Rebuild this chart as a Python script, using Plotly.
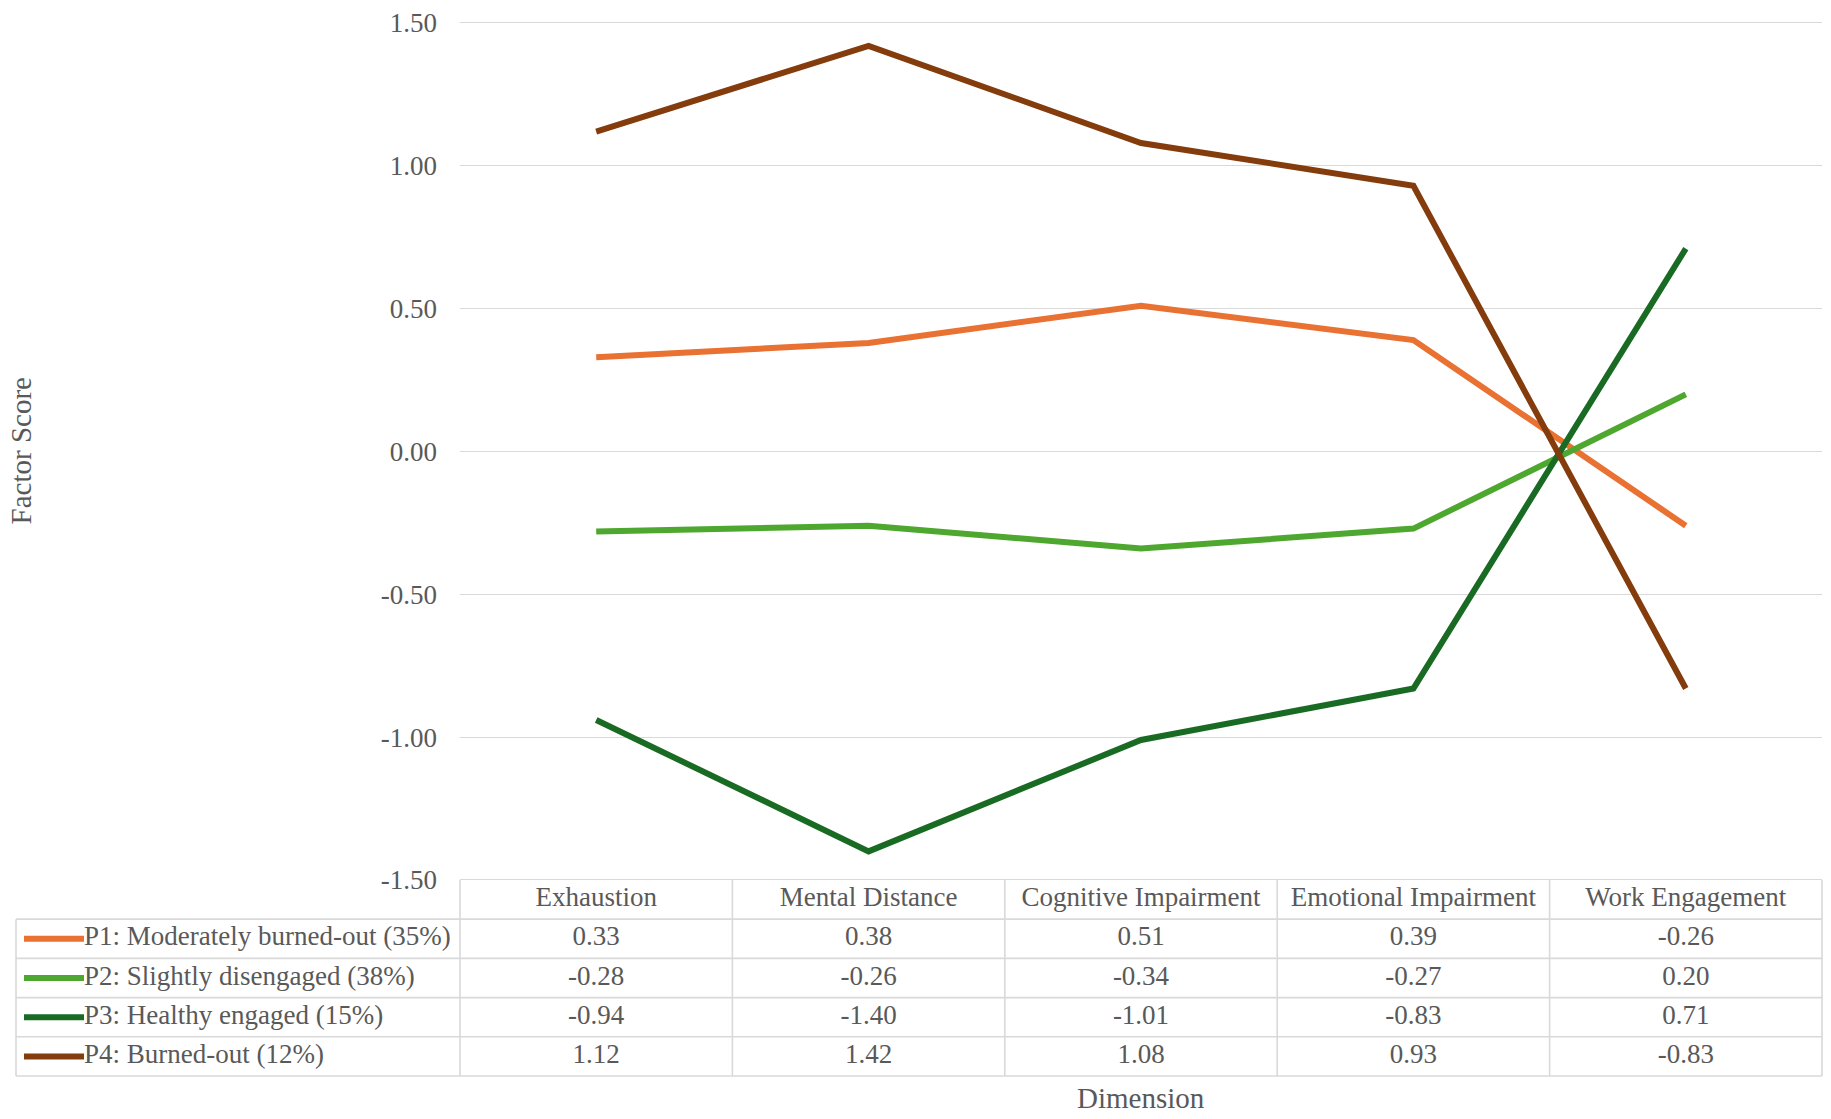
import plotly.graph_objects as go

# ---------------- data ----------------
dimensions = ["Exhaustion", "Mental Distance", "Cognitive Impairment",
              "Emotional Impairment", "Work Engagement"]
profiles = ["P1: Moderately burned-out (35%)", "P2: Slightly disengaged (38%)",
            "P3: Healthy engaged (15%)", "P4: Burned-out (12%)"]
p1_scores = [0.33, 0.38, 0.51, 0.39, -0.26]
p2_scores = [-0.28, -0.26, -0.34, -0.27, 0.20]
p3_scores = [-0.94, -1.40, -1.01, -0.83, 0.71]
p4_scores = [1.12, 1.42, 1.08, 0.93, -0.83]
y_ticks = [-1.5, -1.0, -0.5, 0.0, 0.5, 1.0, 1.5]
y_tick_labels = ["-1.50", "-1.00", "-0.50", "0.00", "0.50", "1.00", "1.50"]
x_title = "Dimension"
y_title = "Factor Score"

# ---------------- style / geometry ----------------
colors = ["#E97132", "#4EA72E", "#196B24", "#843C0C"]
series = [p1_scores, p2_scores, p3_scores, p4_scores]
FONT = "Liberation Serif"
TXT = "#595959"
GRID = "#D9D9D9"
FS = 27
LW = 6

W, H = 1831, 1119
table_left, plot_left, right_px = 16, 460, 1822
top_px, axis_bottom, table_bottom = 18, 879, 1076
pad = 2     # keeps table borders off the clipping edge
gpad = 3    # keeps end gridlines off the axis ends
ml = table_left - pad
mr = W - right_px - 1
mt = top_px - gpad
mb = H - table_bottom - pad
pw, ph = W - ml - mr, H - mt - mb
col_px = (right_px - plot_left) / len(dimensions)
n_rows = len(profiles) + 1
row_px = (table_bottom - axis_bottom) / n_rows
unit_px = (axis_bottom - top_px) / (y_ticks[-1] - y_ticks[0])

x_dom = [(plot_left - ml) / pw, (right_px - ml) / pw]
y_dom = [(H - mb - (axis_bottom + gpad)) / ph, 1]
split = (H - mb - axis_bottom) / ph
y_range = [y_ticks[0] - gpad / unit_px, y_ticks[-1] + gpad / unit_px]
x2_left = -0.5 - (plot_left - ml) / col_px
x2_right = 4.5 + (W - mr - right_px) / col_px
y2_bottom = n_rows - 0.5 + pad / row_px
xl = -0.5 - (plot_left - table_left) / col_px  # table left edge in x2 units

fig = go.Figure()

# main profile lines
for name, vals, c in zip(profiles, series, colors):
    fig.add_trace(go.Scatter(x=dimensions, y=vals, mode="lines", name=name,
                             line=dict(color=c, width=LW), showlegend=False,
                             xaxis="x", yaxis="y"))

# table: header text
fig.add_trace(go.Scatter(x=list(range(len(dimensions))), y=[0] * len(dimensions),
                         mode="text", text=dimensions,
                         textfont=dict(family=FONT, size=FS, color=TXT),
                         showlegend=False, xaxis="x2", yaxis="y2",
                         cliponaxis=False, hoverinfo="skip"))

# table: values, legend keys, labels
for r, (name, vals, c) in enumerate(zip(profiles, series, colors), start=1):
    fig.add_trace(go.Scatter(x=list(range(len(vals))), y=[r] * len(vals),
                             mode="text", text=[f"{v:.2f}" for v in vals],
                             textfont=dict(family=FONT, size=FS, color=TXT),
                             showlegend=False, xaxis="x2", yaxis="y2",
                             cliponaxis=False, hoverinfo="skip"))
    k0 = xl + 8 / col_px
    k1 = xl + 68 / col_px
    fig.add_trace(go.Scatter(x=[k0, k1], y=[r, r], mode="lines",
                             line=dict(color=c, width=LW), showlegend=False,
                             xaxis="x2", yaxis="y2", hoverinfo="skip"))
    fig.add_trace(go.Scatter(x=[k1], y=[r], mode="text", text=[name],
                             textposition="middle right",
                             textfont=dict(family=FONT, size=FS, color=TXT),
                             showlegend=False, xaxis="x2", yaxis="y2",
                             cliponaxis=False, hoverinfo="skip"))

# table grid lines
shapes = []
line_style = dict(color=GRID, width=1.6)
for yy in [r + 0.5 for r in range(n_rows)]:
    shapes.append(dict(type="line", xref="x2", yref="y2", x0=xl, x1=4.5,
                       y0=yy, y1=yy, line=line_style, layer="below"))
shapes.append(dict(type="line", xref="x2", yref="y2", x0=xl, x1=xl,
                   y0=0.5, y1=n_rows - 0.5, line=line_style, layer="below"))
for xx in [i - 0.5 for i in range(len(dimensions) + 1)]:
    shapes.append(dict(type="line", xref="x2", yref="y2", x0=xx, x1=xx,
                       y0=-0.5, y1=n_rows - 0.5, line=line_style, layer="below"))

fig.update_layout(
    width=W, height=H,
    margin=dict(l=ml, r=mr, t=mt, b=mb, pad=0),
    paper_bgcolor="white", plot_bgcolor="rgba(0,0,0,0)",
    font=dict(family=FONT, color=TXT),
    showlegend=False,
    shapes=shapes,
    xaxis=dict(domain=x_dom, type="category", range=[-0.5, 4.5],
               showgrid=False, showticklabels=False, showline=False,
               zeroline=False, anchor="y"),
    yaxis=dict(domain=y_dom, range=y_range, tickvals=y_ticks,
               ticktext=y_tick_labels, showgrid=True, gridcolor=GRID,
               gridwidth=1.3, zeroline=False, showline=False, ticks="",
               ticklabelstandoff=22, ticklabeloverflow="allow",
               tickfont=dict(family=FONT, size=FS, color=TXT), anchor="x"),
    xaxis2=dict(domain=[0, 1], range=[x2_left, x2_right], visible=False,
                anchor="y2"),
    yaxis2=dict(domain=[0, split], range=[y2_bottom, -0.5], visible=False,
                anchor="x2"),
    annotations=[
        dict(text=x_title, xref="x", yref="paper", x=2,
             y=(H - mb - 1098) / ph, xanchor="center", yanchor="middle",
             showarrow=False, font=dict(family=FONT, size=29, color=TXT)),
        dict(text=y_title, xref="paper", yref="y", x=(21 - ml) / pw, y=0,
             xanchor="center", yanchor="middle", textangle=-90,
             showarrow=False, font=dict(family=FONT, size=29, color=TXT)),
    ],
)

fig.write_html("out.html",
               config={"displayModeBar": False},
               post_script="document.body.style.margin='0px';"
                           "document.body.style.overflow='hidden';")
